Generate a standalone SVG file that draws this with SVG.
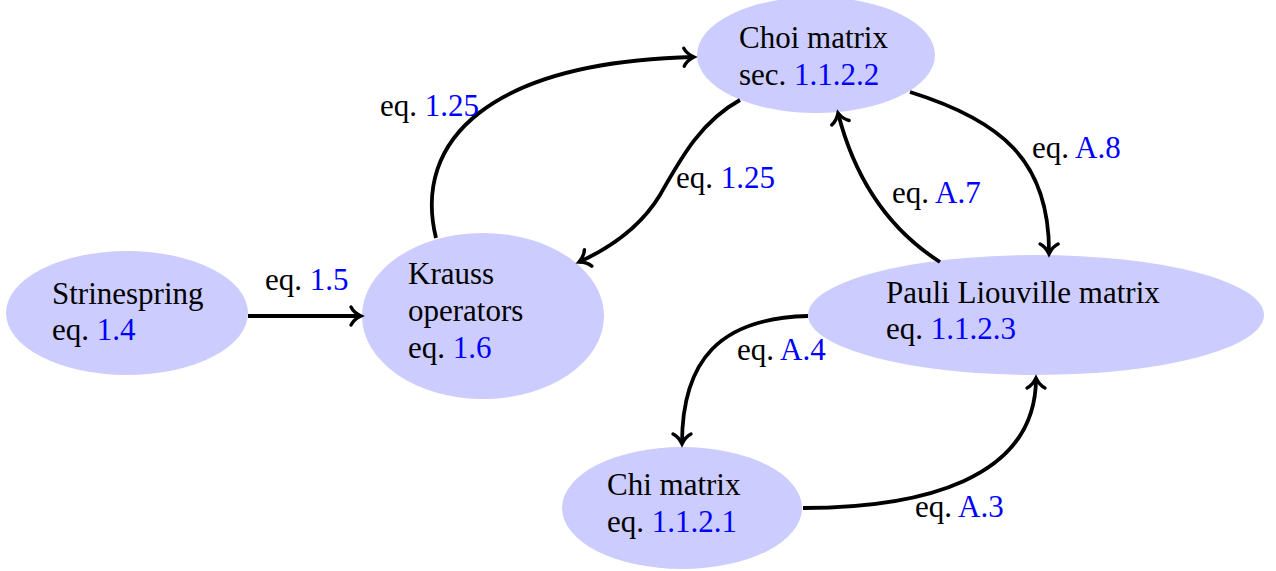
<svg xmlns="http://www.w3.org/2000/svg" width="1276" height="571" viewBox="0 0 1276 571">
  <style>
    .node { fill: #ccccff; stroke: none; }
    text { font-family: "Liberation Serif", "Times New Roman", serif; font-size: 31px; fill: #000; }
    .ref { fill: #0000ff; }
    .edge { fill: none; stroke: #000; stroke-width: 3.8; marker-end: url(#to); }
  </style>
  <defs>
    <marker id="to" markerUnits="userSpaceOnUse" markerWidth="24" markerHeight="24" viewBox="-12 -12 24 24" refX="0" refY="0" orient="auto" overflow="visible">
      <path d="M-10,-9 C-7,-3 -2,-1 0,0 C-2,1 -7,3 -10,9" fill="none" stroke="#000" stroke-width="3.4" stroke-linecap="round"/>
    </marker>
  </defs>

  <rect width="1276" height="571" fill="#fff"/>

  <g id="strinespring">
    <ellipse class="node" cx="127" cy="313" rx="121" ry="62"/>
    <text x="52" y="304">Strinespring</text>
    <text x="52" y="340">eq. <tspan class="ref">1.4</tspan></text>
  </g>

  <g id="krauss">
    <ellipse class="node" cx="483" cy="316" rx="121" ry="83"/>
    <text x="408" y="284">Krauss</text>
    <text x="408" y="321">operators</text>
    <text x="408" y="358">eq. <tspan class="ref">1.6</tspan></text>
  </g>

  <g id="choi">
    <ellipse class="node" cx="816" cy="55" rx="119" ry="58"/>
    <text x="739" y="48">Choi matrix</text>
    <text x="739" y="85">sec. <tspan class="ref">1.1.2.2</tspan></text>
  </g>

  <g id="pauli">
    <ellipse class="node" cx="1036" cy="315" rx="228" ry="60"/>
    <text x="886" y="303">Pauli Liouville matrix</text>
    <text x="886" y="339">eq. <tspan class="ref">1.1.2.3</tspan></text>
  </g>

  <g id="chi">
    <ellipse class="node" cx="682" cy="508" rx="120" ry="61"/>
    <text x="607" y="495">Chi matrix</text>
    <text x="607" y="532">eq. <tspan class="ref">1.1.2.1</tspan></text>
  </g>

  <g id="connectors">
    <path class="edge" d="M248,316 L361,316"/>
    <path class="edge" d="M436,238 C412,140 490,62 694,57"/>
    <path class="edge" d="M740,100 C700,122 680,160 660,195 C640,228 610,248 579,262"/>
    <path class="edge" d="M940,262 C890,230 855,180 838,113"/>
    <path class="edge" d="M910,92 C1000,120 1050,160 1049,254"/>
    <path class="edge" d="M808,316 C720,318 682,360 682,444"/>
    <path class="edge" d="M803,508 C920,508 1036,480 1036,378"/>

    <text x="265" y="290">eq. <tspan class="ref">1.5</tspan></text>
    <text x="380" y="116">eq. <tspan class="ref">1.25</tspan></text>
    <text x="676" y="188">eq. <tspan class="ref">1.25</tspan></text>
    <text x="892" y="203">eq. <tspan class="ref">A.7</tspan></text>
    <text x="1032" y="158">eq. <tspan class="ref">A.8</tspan></text>
    <text x="737" y="360">eq. <tspan class="ref">A.4</tspan></text>
    <text x="915" y="517">eq. <tspan class="ref">A.3</tspan></text>
  </g>
</svg>
